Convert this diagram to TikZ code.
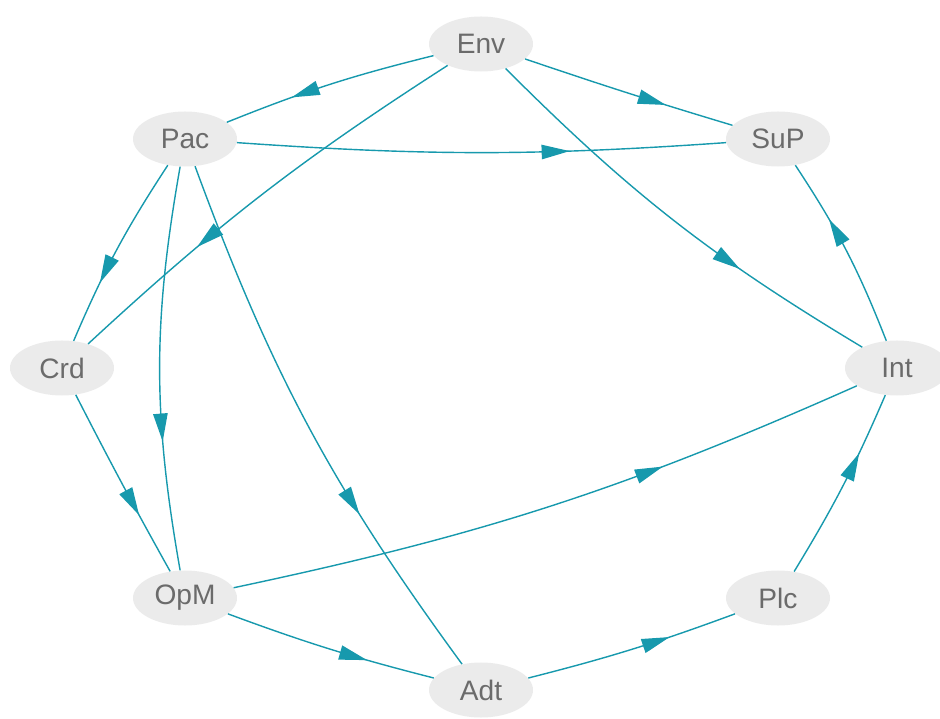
\documentclass[tikz,border=0pt]{standalone}
\usepackage{fontspec}
\setmainfont{Liberation Sans}
\usetikzlibrary{arrows.meta,decorations.markings,shapes.geometric}

\definecolor{edgeteal}{HTML}{1799AD}
\definecolor{nodegray}{HTML}{EBEBEB}
\definecolor{labelgray}{HTML}{6B6B6B}

\tikzset{
  vert/.style={ellipse,fill=nodegray,text=labelgray,inner sep=0pt,
    minimum width=2.6cm,minimum height=1.375cm,
    font=\fontsize{20}{24}\selectfont},
  link/.style={draw=edgeteal,line width=1pt,postaction={decorate}}
}

\begin{document}
\begin{tikzpicture}[x=0.025cm,y=0.025cm,>={Triangle[length=0.7cm,width=0.36cm]},
	decoration={
				markings,
				mark=at position 0.68 with {\arrow{>}}}
	]

	\useasboundingbox (0,0) rectangle (940,718);

	\node[vert] (env) at (481,674) {Env};
	\node[vert] (pac) at (185,579) {Pac};
	\node[vert] (sup) at (778,579) {SuP};
	\node[vert] (crd) at (62,350) {Crd};
	\node[vert] (int) at (897,350) {Int};
	\node[vert] (opm) at (185,120) {OpM};
	\node[vert] (plc) at (778,120) {Plc};
	\node[vert] (adt) at (481,28) {Adt};

	\foreach \a/\b/\c in {env/pac/4,env/sup/1,env/crd/5,env/int/7,
			pac/sup/4,pac/crd/5,pac/opm/10,pac/adt/8,crd/opm/1,
			opm/int/6,opm/adt/3,adt/plc/3,plc/int/4,int/sup/6} {
			\draw[link] (\a) to[bend right=\c] (\b);
		}

\end{tikzpicture}
\end{document}
